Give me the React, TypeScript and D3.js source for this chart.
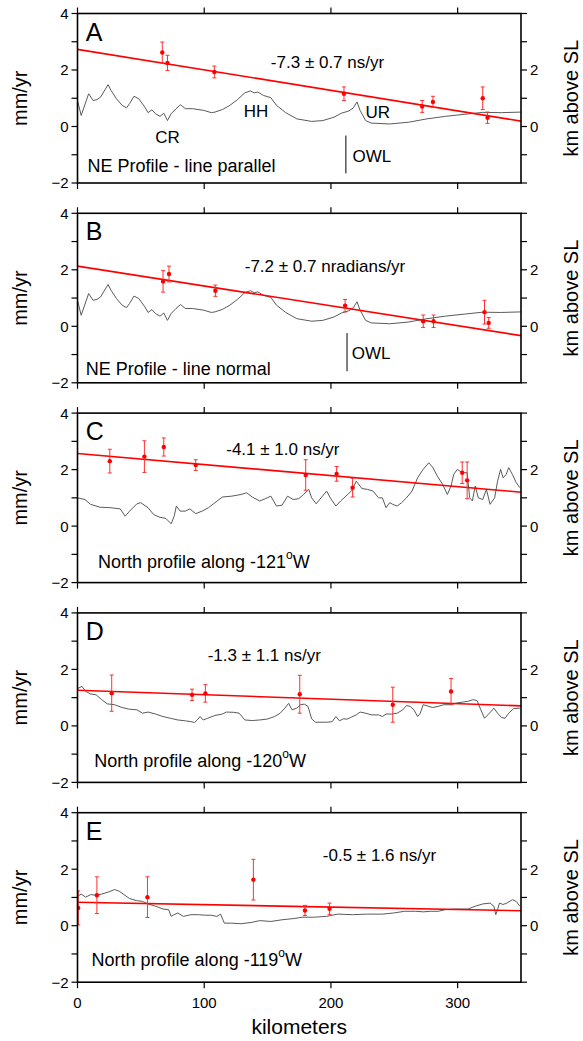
import React from 'react';
import * as d3 from 'd3';

const W = 583;
const H = 1041;
const FONT = '"Liberation Sans", Arial, Helvetica, sans-serif';

const xTicks = [0, 100, 200, 300];
const yTicks = [-2, -1, 0, 1, 2, 3, 4];
const yLabels = [-2, 0, 2, 4];
const kmLabels = [0, 2];

// A: NE profile, line parallel
const aDist = [66.9, 71.0, 108.0, 210.3, 272.0, 280.5, 319.8, 323.6];
const aRate = [2.62, 2.25, 1.93, 1.16, 0.71, 0.87, 1.0, 0.31];
const aErr = [0.37, 0.27, 0.21, 0.24, 0.21, 0.2, 0.4, 0.2];
const aFit = [2.73, 0.19];

// B: NE profile, line normal
const bDist = [67.5, 72.2, 108.8, 211.2, 272.8, 281.0, 321.2, 324.5];
const bRate = [1.59, 1.85, 1.26, 0.73, 0.18, 0.18, 0.5, 0.12];
const bErr = [0.38, 0.28, 0.2, 0.22, 0.22, 0.22, 0.42, 0.19];
const bFit = [2.13, -0.33];

// C: north profile along -121
const cDist = [25.5, 52.8, 68.1, 93.3, 180.1, 204.5, 217.1, 303.6, 307.5];
const cRate = [2.3, 2.46, 2.8, 2.16, 1.81, 1.85, 1.36, 1.89, 1.62];
const cErr = [0.42, 0.56, 0.32, 0.19, 0.54, 0.26, 0.33, 0.38, 0.65];
const cFit = [2.57, 1.2];

// D: north profile along -120
const dDist = [27.0, 90.4, 100.9, 175.4, 248.8, 294.8];
const dRate = [1.16, 1.1, 1.15, 1.12, 0.75, 1.22];
const dErr = [0.64, 0.2, 0.31, 0.67, 0.62, 0.46];
const dFit = [1.26, 0.71];

// E: north profile along -119
const eDist = [0.6, 15.3, 55.2, 138.8, 179.5, 198.9];
const eRate = [0.63, 1.08, 1.01, 1.63, 0.54, 0.6];
const eErr = [0.6, 0.65, 0.72, 0.72, 0.18, 0.2];
const eFit = [0.83, 0.53];

// topography, [km along profile, km above sea level]
const neTopo: [number, number][] = [
  [0, 0.92], [2.9, 0.39], [8.8, 1.16], [12.3, 0.92], [15.3, 0.95], [18.2, 1.04], [24.1, 1.48],
  [26.4, 1.28], [30.8, 0.98], [35.2, 0.75], [38.7, 0.66], [41.1, 0.81], [44.6, 1.07], [48.4, 0.98],
  [52.8, 0.71], [55.7, 0.49], [58.7, 0.59], [61.6, 0.45], [65.1, 0.36], [68.1, 0.47], [71.0, 0.21],
  [73.9, 0.45], [77.7, 0.63], [81.3, 0.77], [85.1, 0.63], [90.9, 0.63], [99.7, 0.57], [105.6, 0.49],
  [108.5, 0.51], [114.4, 0.6], [120.3, 0.75], [126.2, 0.95], [132.0, 1.19], [136.4, 1.26], [139.4, 1.19],
  [142.3, 1.22], [146.7, 1.1], [152.6, 1.02], [157.0, 0.75], [164.3, 0.49], [173.1, 0.27], [184.8, 0.18],
  [193.6, 0.21], [202.4, 0.33], [208.3, 0.47], [214.2, 0.55], [217.7, 0.66], [220.6, 0.87], [223.0, 0.57],
  [227.4, 0.21], [231.8, 0.12], [246.4, 0.09], [261.1, 0.15], [275.8, 0.27], [290.4, 0.36], [305.1, 0.43],
  [319.8, 0.5], [334.5, 0.49], [350, 0.51],
];

const topo121: [number, number][] = [
  [0, 1.0], [5.9, 0.94], [10.3, 0.77], [17.6, 0.67], [26.4, 0.65], [33.7, 0.61], [37.6, 0.35],
  [41.1, 0.53], [46.9, 0.79], [49.9, 0.83], [55.7, 0.65], [60.1, 0.41], [64.5, 0.32], [69.8, 0.27],
  [73.9, 0.08], [76.3, 0.35], [78.0, 0.71], [81.0, 0.53], [85.1, 0.53], [88.6, 0.61], [93.3, 0.44],
  [98.3, 0.53], [103.3, 0.65], [108.5, 0.83], [114.4, 1.03], [121.8, 1.06], [129.1, 1.12], [133.5, 1.18],
  [137.9, 1.03], [143.8, 0.89], [148.2, 0.97], [152.6, 1.06], [157.0, 0.71], [161.4, 0.74], [165.8, 1.06],
  [170.2, 0.94], [174.6, 0.97], [178.4, 1.12], [182.5, 1.3], [184.8, 1.0], [188.4, 0.79], [192.2, 1.0],
  [196.6, 1.24], [199.5, 1.0], [203.9, 0.71], [207.7, 0.89], [211.8, 1.06], [216.5, 1.26], [220.0, 1.59],
  [224.4, 1.33], [228.8, 1.3], [233.2, 1.24], [237.6, 1.0], [240.6, 1.0], [243.5, 0.65], [246.4, 0.83],
  [248.8, 0.77], [252.3, 0.71], [255.8, 0.83], [259.6, 1.0], [264.0, 1.24], [268.4, 1.71], [272.8, 2.01],
  [277.2, 2.24], [280.2, 2.09], [284.0, 1.77], [288.1, 1.48], [291.9, 1.12], [294.8, 1.42], [296.9, 1.83],
  [299.8, 2.01], [303.6, 1.89], [307.5, 1.89], [309.5, 1.0], [311.6, 0.89], [313.9, 1.42], [316.3, 1.0],
  [319.8, 0.94], [322.7, 1.3], [325.6, 0.77], [329.2, 1.0], [331.5, 1.59], [333.9, 2.01], [335.9, 1.71],
  [338.3, 1.83], [340.3, 2.07], [343.2, 1.83], [346.2, 1.54], [349.1, 1.36],
];

const topo120: [number, number][] = [
  [0, 1.32], [3.5, 1.4], [6.5, 1.22], [10.3, 1.13], [14.7, 1.1], [19.1, 0.93], [23.5, 0.78],
  [29.3, 0.75], [35.2, 0.65], [41.1, 0.59], [46.9, 0.57], [51.3, 0.45], [55.7, 0.49], [61.6, 0.42],
  [67.5, 0.33], [73.3, 0.27], [79.2, 0.21], [85.1, 0.18], [89.5, 0.15], [92.4, 0.12], [94.5, 0.21],
  [96.8, 0.33], [99.2, 0.21], [102.7, 0.27], [108.5, 0.37], [114.4, 0.42], [117.4, 0.49], [123.2, 0.48],
  [127.6, 0.45], [132.0, 0.21], [137.9, 0.19], [143.8, 0.21], [149.6, 0.24], [155.5, 0.33], [159.9, 0.45],
  [163.7, 0.63], [166.6, 0.8], [169.3, 0.57], [173.1, 0.63], [176.0, 0.75], [179.0, 0.77], [181.9, 0.69],
  [184.8, 0.25], [187.8, 0.13], [196.6, 0.13], [201.0, 0.15], [203.9, 0.33], [206.8, 0.18], [209.8, 0.25],
  [212.7, 0.24], [215.6, 0.3], [220.0, 0.39], [223.0, 0.49], [227.4, 0.45], [231.8, 0.39], [237.6, 0.39],
  [240.6, 0.33], [243.5, 0.42], [247.9, 0.42], [252.3, 0.45], [256.7, 0.57], [259.6, 0.72], [262.6, 0.69],
  [265.5, 0.57], [268.4, 0.33], [270.5, 0.45], [272.8, 0.75], [275.8, 0.71], [280.2, 0.65], [284.6, 0.69],
  [289.0, 0.75], [294.8, 0.75], [299.2, 0.81], [303.6, 0.84], [308.0, 0.87], [312.5, 0.93], [315.4, 0.89],
  [318.3, 0.57], [321.2, 0.27], [325.1, 0.45], [328.6, 0.63], [331.5, 0.45], [334.5, 0.3], [337.4, 0.27],
  [340.3, 0.45], [344.1, 0.61], [349.1, 0.63],
];

const topo119: [number, number][] = [
  [0, 1.04], [2.9, 1.12], [6.5, 1.01], [10.3, 1.1], [14.7, 1.08], [19.1, 1.12], [24.9, 1.2],
  [29.3, 1.28], [32.9, 1.22], [36.7, 1.1], [41.1, 0.96], [46.4, 0.89], [51.3, 0.86], [55.7, 0.77],
  [61.6, 0.69], [67.5, 0.59], [71.9, 0.57], [73.9, 0.33], [76.3, 0.39], [79.2, 0.45], [83.6, 0.33],
  [89.5, 0.39], [95.3, 0.39], [101.2, 0.37], [105.6, 0.37], [110.0, 0.33], [112.9, 0.41], [115.9, 0.09],
  [121.8, 0.09], [129.1, 0.07], [137.9, 0.12], [143.8, 0.18], [152.6, 0.15], [161.4, 0.21], [170.2, 0.25],
  [177.5, 0.3], [186.3, 0.3], [196.6, 0.33], [205.4, 0.41], [217.1, 0.39], [228.8, 0.41], [240.6, 0.41],
  [249.4, 0.45], [258.2, 0.51], [267.0, 0.51], [272.8, 0.49], [278.7, 0.51], [284.6, 0.51], [290.4, 0.57],
  [299.2, 0.59], [308.0, 0.59], [313.9, 0.69], [319.8, 0.77], [325.6, 0.8], [328.6, 0.69], [330.1, 0.39],
  [331.5, 0.57], [333.0, 0.8], [335.9, 0.75], [338.8, 0.8], [343.2, 0.92], [346.2, 0.86], [349.1, 0.69],
];

type Note = { text: string; x: number; y: number; anchor?: string };

interface PanelSpec {
  letter: string;
  dist: number[];
  rate: number[];
  err: number[];
  fit: number[];
  topo: [number, number][];
  slope: Note;
  profile: string;
  profileAt: [number, number];
  degree?: string;
  notes?: Note[];
  owl?: [number, number, number];
}

const panels: PanelSpec[] = [
  {
    letter: 'A', dist: aDist, rate: aRate, err: aErr, fit: aFit, topo: neTopo,
    slope: { text: '-7.3 \u00b1 0.7 ns/yr', x: 152.6, y: 2.29 },
    profile: 'NE Profile - line parallel', profileAt: [7.9, -1.39],
    notes: [
      { text: 'CR', x: 71, y: -0.35, anchor: 'middle' },
      { text: 'HH', x: 140.8, y: 0.57, anchor: 'middle' },
      { text: 'UR', x: 237, y: 0.51, anchor: 'middle' },
      { text: 'OWL', x: 217, y: -1.03 },
    ],
    owl: [211.8, -0.32, -1.66],
  },
  {
    letter: 'B', dist: bDist, rate: bRate, err: bErr, fit: bFit, topo: neTopo,
    slope: { text: '-7.2 \u00b1 0.7 nradians/yr', x: 132, y: 2.13 },
    profile: 'NE Profile - line normal', profileAt: [6.5, -1.48],
    notes: [{ text: 'OWL', x: 216.5, y: -0.94 }],
    owl: [212.7, -0.24, -1.59],
  },
  {
    letter: 'C', dist: cDist, rate: cRate, err: cErr, fit: cFit, topo: topo121,
    slope: { text: '-4.1 \u00b1 1.0 ns/yr', x: 117.4, y: 2.72 },
    profile: 'North profile along -121', degree: 'W', profileAt: [16.1, -1.24],
  },
  {
    letter: 'D', dist: dDist, rate: dRate, err: dErr, fit: dFit, topo: topo120,
    slope: { text: '-1.3 \u00b1 1.1 ns/yr', x: 102.7, y: 2.53 },
    profile: 'North profile along -120', degree: 'W', profileAt: [13.2, -1.21],
  },
  {
    letter: 'E', dist: eDist, rate: eRate, err: eErr, fit: eFit, topo: topo119,
    slope: { text: '-0.5 \u00b1 1.6 ns/yr', x: 193.6, y: 2.49 },
    profile: 'North profile along -119', degree: 'W', profileAt: [11.1, -1.21],
  },
];

const LEFT = 77.5;
const RIGHT = 521;
const TOP0 = 13.5;
const PITCH = 199.8;
const PH = 169.5;
const TICK = 6;

const x = d3.scaleLinear().domain([0, 350]).range([LEFT, RIGHT]);

function fmt(v: number) {
  return v < 0 ? '\u2212' + Math.abs(v) : String(v);
}

function Panel({ spec, index }: { spec: PanelSpec; index: number }) {
  const top = TOP0 + index * PITCH;
  const y = d3.scaleLinear().domain([-2, 4]).range([top + PH, top]);
  const topoLine = d3.line<[number, number]>().x((d) => x(d[0])).y((d) => y(d[1]))(spec.topo) || '';
  const mid = top + PH / 2;
  const last = index === panels.length - 1;

  return (
    <g>
      <defs>
        <clipPath id={`clip${index}`}>
          <rect x={LEFT} y={top} width={RIGHT - LEFT} height={PH} />
        </clipPath>
      </defs>

      <g clipPath={`url(#clip${index})`}>
        <path d={topoLine} fill="none" stroke="#5a5a5a" strokeWidth={1} />
        <line x1={x(0)} y1={y(spec.fit[0])} x2={x(350)} y2={y(spec.fit[1])} stroke="#ff0000" strokeWidth={1.6} />
        {spec.dist.map((d, i) => {
          const hi = y(spec.rate[i] + spec.err[i]);
          const lo = y(spec.rate[i] - spec.err[i]);
          return (
            <g key={i} stroke="#ff3030" strokeWidth={1}>
              <line x1={x(d)} x2={x(d)} y1={hi} y2={lo} />
              <line x1={x(d) - 2} x2={x(d) + 2} y1={hi} y2={hi} />
              <line x1={x(d) - 2} x2={x(d) + 2} y1={lo} y2={lo} />
              <circle cx={x(d)} cy={y(spec.rate[i])} r={2.2} fill="#ff0000" stroke="none" />
            </g>
          );
        })}
      </g>

      {spec.owl && (
        <line x1={x(spec.owl[0])} x2={x(spec.owl[0])} y1={y(spec.owl[1])} y2={y(spec.owl[2])} stroke="#000" strokeWidth={1} />
      )}
      {(spec.notes || []).map((n, i) => (
        <text key={i} x={x(n.x)} y={y(n.y)} dy="0.36em" textAnchor={n.anchor || 'start'} fontSize={17}>
          {n.text}
        </text>
      ))}

      <text x={x(6.5)} y={y(3.36)} dy="0.36em" fontSize={25}>{spec.letter}</text>
      <text x={x(spec.slope.x)} y={y(spec.slope.y)} dy="0.36em" fontSize={17}>{spec.slope.text}</text>
      <text x={x(spec.profileAt[0])} y={y(spec.profileAt[1])} dy="0.36em" fontSize={18}>
        {spec.profile}
        {spec.degree && (
          <>
            <tspan fontSize={12} dy="-0.75em">o</tspan>
            <tspan dy="0.5em">{spec.degree}</tspan>
          </>
        )}
      </text>

      <rect x={LEFT} y={top} width={RIGHT - LEFT} height={PH} fill="none" stroke="#000" strokeWidth={1.6} />

      {yTicks.map((t) => (
        <g key={t} stroke="#000" strokeWidth={1.2}>
          <line x1={LEFT - TICK} x2={LEFT} y1={y(t)} y2={y(t)} />
          <line x1={RIGHT} x2={RIGHT + TICK} y1={y(t)} y2={y(t)} />
        </g>
      ))}
      {yLabels.map((t) => (
        <text key={t} x={LEFT - 9} y={y(t)} dy="0.36em" textAnchor="end" fontSize={15}>{fmt(t)}</text>
      ))}
      {kmLabels.map((t) => (
        <text key={t} x={RIGHT + 9} y={y(t)} dy="0.36em" fontSize={15}>{t}</text>
      ))}

      {xTicks.map((t) => (
        <g key={t}>
          <line x1={x(t)} x2={x(t)} y1={top - TICK} y2={top} stroke="#000" strokeWidth={1.2} />
          <line x1={x(t)} x2={x(t)} y1={top + PH} y2={top + PH + TICK} stroke="#000" strokeWidth={1.2} />
          {last && (
            <text x={x(t)} y={top + PH + 26} textAnchor="middle" fontSize={15}>{t}</text>
          )}
        </g>
      ))}

      <text transform={`translate(27,${mid}) rotate(-90)`} textAnchor="middle" fontSize={20}>mm/yr</text>
      <text transform={`translate(578,${mid}) rotate(-90)`} textAnchor="middle" fontSize={20}>km above SL</text>
    </g>
  );
}

export default function App() {
  return (
    <svg width={W} height={H} viewBox={`0 0 ${W} ${H}`}
      style={{ position: 'absolute', left: 0, top: 0, background: '#fff' }}
      fontFamily={FONT} fill="#000">
      {panels.map((p, i) => (
        <Panel key={p.letter} spec={p} index={i} />
      ))}
      <text x={(LEFT + RIGHT) / 2} y={1034} textAnchor="middle" fontSize={21}>kilometers</text>
    </svg>
  );
}
